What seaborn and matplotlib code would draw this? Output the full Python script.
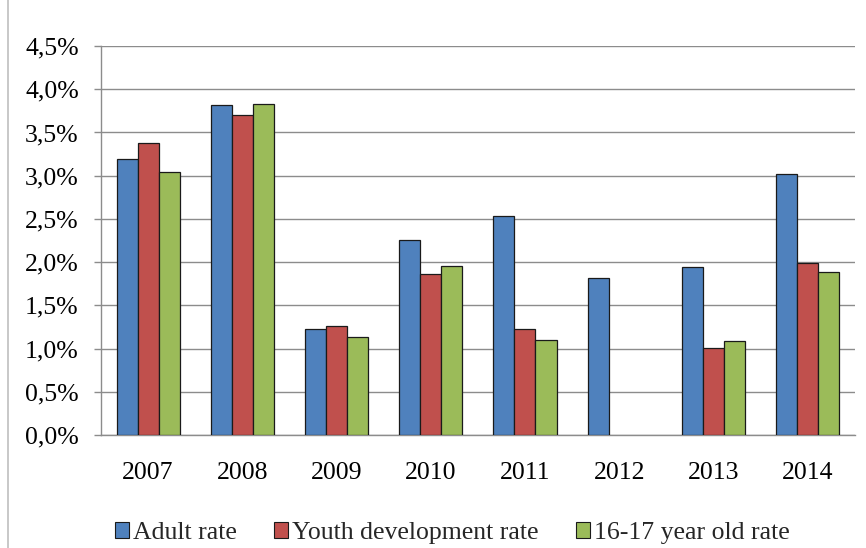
import numpy as np
import pandas as pd
import matplotlib.pyplot as plt
import seaborn as sns
from matplotlib.patches import Rectangle
from matplotlib.ticker import FuncFormatter, MultipleLocator

years = ["2007", "2008", "2009", "2010", "2011", "2012", "2013", "2014"]
adult_rate = [3.19, 3.82, 1.23, 2.26, 2.53, 1.82, 1.94, 3.02]
youth_rate = [3.38, 3.70, 1.26, 1.86, 1.23, np.nan, 1.01, 1.99]
teen_rate = [3.04, 3.83, 1.14, 1.96, 1.10, np.nan, 1.09, 1.89]
series_names = ["Adult rate", "Youth development rate", "16-17 year old rate"]
colors = ["#4F81BD", "#C0504D", "#9BBB59"]

df = pd.DataFrame({"year": years, series_names[0]: adult_rate,
                   series_names[1]: youth_rate, series_names[2]: teen_rate})
df_long = df.melt(id_vars="year", var_name="series", value_name="rate")

sns.set_theme(style="white")
plt.rcParams["font.family"] = ["Liberation Serif", "DejaVu Serif"]
FS = 18.5

fig = plt.figure(figsize=(8.66, 5.48), dpi=100)
ax = fig.add_axes([0.1166, 0.206, 0.987 - 0.1166, 0.916 - 0.206])

# chart border
fig.patches.append(Rectangle((8 / 866, -0.01), 1.5, 1.02, transform=fig.transFigure,
                             fill=False, edgecolor="#BFBFBF", linewidth=1.2))

sns.barplot(data=df_long, x="year", y="rate", hue="series", palette=colors,
            width=0.67, gap=0, edgecolor="#1a1a1a", linewidth=0.9,
            errorbar=None, saturation=1, ax=ax, zorder=3)

ax.set_ylim(0, 4.5)
ax.set_xlim(-0.5, 7.5)
ax.yaxis.set_major_locator(MultipleLocator(0.5))
ax.yaxis.set_major_formatter(FuncFormatter(lambda v, p: f"{v:.1f}%".replace(".", ",")))
ax.grid(axis="y", color="#8C8C8C", linewidth=1, zorder=0)
ax.set_axisbelow(True)
ax.set(xlabel="", ylabel="")

for side in ["top", "right"]:
    ax.spines[side].set_visible(False)
for side in ["left", "bottom"]:
    ax.spines[side].set_color("#8C8C8C")
    ax.spines[side].set_linewidth(1)

ax.set_xticks(np.arange(-0.5, 8, 1), minor=True)
ax.tick_params(axis="x", which="major", length=0, labelsize=FS, colors="black", pad=19)
ax.tick_params(axis="x", which="minor", length=5, color="#8C8C8C", width=1, direction="out")
ax.tick_params(axis="y", length=5, color="#8C8C8C", width=1, direction="out",
               left=True, labelsize=FS, labelcolor="black", pad=11)

ax.legend(loc="center", bbox_to_anchor=(0.466, -0.252), ncol=3, frameon=False,
          fontsize=FS, handlelength=0.55, handleheight=0.55, handletextpad=0.15,
          columnspacing=1.45, borderaxespad=0, borderpad=0)
for h in ax.get_legend().legend_handles:
    h.set_edgecolor("#1a1a1a")
    h.set_linewidth(0.8)

fig.savefig("out.png", dpi=100)
